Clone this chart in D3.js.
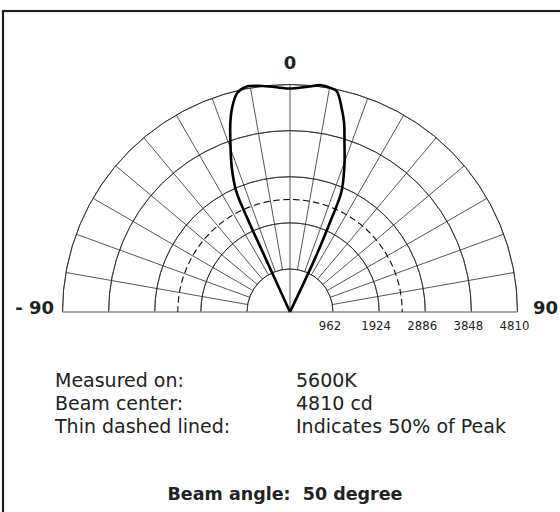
<!DOCTYPE html>
<html>
<head>
<meta charset="utf-8">
<script src="https://cdn.jsdelivr.net/npm/d3@7"></script>
<style>
  body { margin: 0; background: #fff; }
  svg { display: block; font-family: "DejaVu Sans", Verdana, sans-serif; }
</style>
</head>
<body>
<svg id="chart" width="560" height="512"></svg>
<script>
// ring values (cd) and their labels
const ringValues = [962, 1924, 2886, 3848, 4810];
const peak = 4810;
const halfPeak = 2405;
// spoke angles in degrees (0 = straight up)
const spokeAngles = [-80, -70, -60, -50, -40, -30, -20, -10, 10, 20, 30, 40, 50, 60, 70, 80];
// measured beam profile, degrees / cd
const beamAngles = [-24.5, -24.5, -24.5, -24, -22, -19.3, -17.5, -15.8, -13.5, -11, -8, -4, 0, 4, 7.9, 10.5, 12, 14.2, 16, 17.7, 20.5, 23.2, 24, 25, 25];
const beamCd = [0, 1318, 2154, 2823, 3304, 3827, 4203, 4496, 4768, 4852, 4831, 4768, 4726, 4768, 4841, 4810, 4768, 4454, 4161, 3800, 3304, 2781, 2133, 1339, 0];
const infoLeft = ["Measured on:", "Beam center:", "Thin dashed lined:"];
const infoRight = ["5600K", "4810 cd", "Indicates 50% of Peak"];

const svg = d3.select('#chart');
const cx = 290, cy = 312;
// inner ring sits a bit tighter than linear
const r = d3.scaleLinear([0, 962, 4810], [0, 43, 227.5]);
const rad = d => d * Math.PI / 180;

// frame (only top and left edges visible)
svg.append('rect')
  .attr('x', 3).attr('y', 11)
  .attr('width', 700).attr('height', 700)
  .attr('fill', 'none')
  .attr('stroke', '#231f20')
  .attr('stroke-width', 2.2);

const g = svg.append('g').attr('transform', `translate(${cx},${cy})`);

const arc = d3.arc().startAngle(-Math.PI / 2).endAngle(Math.PI / 2);

// rings
g.selectAll('path.ring')
  .data(ringValues)
  .join('path')
  .attr('class', 'ring')
  .attr('d', v => arc({innerRadius: r(v), outerRadius: r(v)}))
  .attr('fill', 'none')
  .attr('stroke', '#2b2b2b')
  .attr('stroke-width', 0.8);

// spokes
g.selectAll('line.spoke')
  .data(spokeAngles)
  .join('line')
  .attr('class', 'spoke')
  .attr('x1', a => r(ringValues[0]) * Math.sin(rad(a)))
  .attr('y1', a => -r(ringValues[0]) * Math.cos(rad(a)))
  .attr('x2', a => r(peak) * Math.sin(rad(a)))
  .attr('y2', a => -r(peak) * Math.cos(rad(a)))
  .attr('stroke', '#2b2b2b')
  .attr('stroke-width', 0.8);

// centre spoke
g.append('line')
  .attr('x1', 0).attr('y1', 0)
  .attr('x2', 0).attr('y2', -r(peak))
  .attr('stroke', '#2b2b2b')
  .attr('stroke-width', 0.8);

// baseline
g.append('line')
  .attr('x1', -r(peak)).attr('x2', r(peak))
  .attr('y1', 0).attr('y2', 0)
  .attr('stroke', '#8c8c8c')
  .attr('stroke-width', 1.6);

// 50% ring
g.append('path')
  .attr('d', arc({innerRadius: r(halfPeak), outerRadius: r(halfPeak)}))
  .attr('fill', 'none')
  .attr('stroke', '#111')
  .attr('stroke-width', 1.1)
  .attr('stroke-dasharray', '6,4');

// beam curve
const beam = beamAngles.map((a, i) => ({a, v: beamCd[i]}));
const line = d3.lineRadial()
  .angle(d => rad(d.a))
  .radius(d => r(d.v))
  .curve(d3.curveCatmullRom.alpha(0.5));
g.append('path')
  .datum(beam)
  .attr('d', line)
  .attr('fill', 'none')
  .attr('stroke', '#000')
  .attr('stroke-width', 2.6)
  .attr('stroke-linejoin', 'round');

// ring labels
g.selectAll('text.tick')
  .data(ringValues)
  .join('text')
  .attr('class', 'tick')
  .attr('x', v => r(v) - 3)
  .attr('y', 18)
  .attr('text-anchor', 'middle')
  .attr('font-family', '"DejaVu Sans Condensed", "DejaVu Sans", sans-serif')
  .attr('font-size', 13)
  .attr('fill', '#222')
  .text(d => d);

// angle labels
function label(x, y, anchor, txt) {
  svg.append('text')
    .attr('x', x).attr('y', y)
    .attr('text-anchor', anchor)
    .attr('font-weight', 'bold')
    .attr('font-size', 18)
    .attr('fill', '#222')
    .text(txt);
}
label(cx, 69, 'middle', '0');
label(54, 314, 'end', '- 90');
label(533, 314, 'start', '90');

// info block
svg.selectAll('text.infoL')
  .data(infoLeft)
  .join('text')
  .attr('class', 'infoL')
  .attr('x', 55)
  .attr('y', (d, i) => 387 + i * 23)
  .attr('font-size', 19)
  .attr('fill', '#222')
  .text(d => d);

svg.selectAll('text.infoR')
  .data(infoRight)
  .join('text')
  .attr('class', 'infoR')
  .attr('x', 296)
  .attr('y', (d, i) => 387 + i * 23)
  .attr('font-size', 19)
  .attr('fill', '#222')
  .text(d => d);

svg.append('text')
  .attr('x', 285)
  .attr('y', 500)
  .attr('text-anchor', 'middle')
  .attr('font-size', 17.5)
  .attr('font-weight', 'bold')
  .attr('fill', '#222')
  .style('white-space', 'pre')
  .text('Beam angle:  50 degree');
</script>
</body>
</html>
